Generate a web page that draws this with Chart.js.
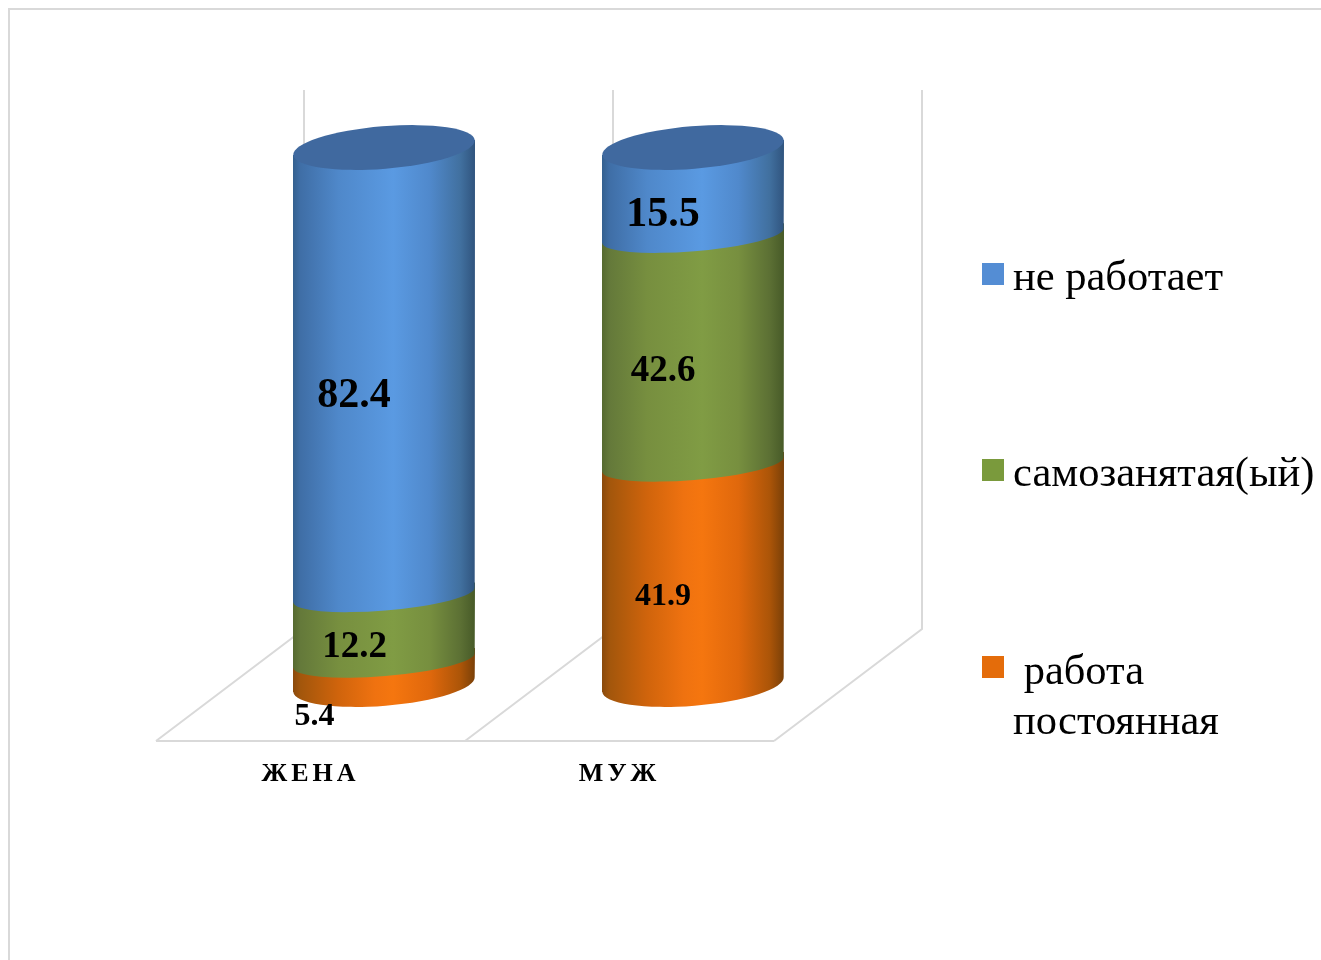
<!DOCTYPE html>
<html>
<head>
<meta charset="utf-8">
<style>
html,body{margin:0;padding:0;background:#fff;overflow:hidden}
canvas{display:block}
</style>
<script src="https://cdn.jsdelivr.net/npm/chart.js@4/dist/chart.umd.min.js"></script>
</head>
<body>
<canvas id="chart" width="1321" height="960"></canvas>
<script>
var categories = ['ЖЕНА', 'МУЖ'];
var permanentWork = [5.4, 41.9];
var selfEmployed = [12.2, 42.6];
var notWorking = [82.4, 15.5];
var seriesLabels = ['работа постоянная', 'самозанятая(ый)', 'не работает'];

// legend text, top to bottom, and how it wraps
var legendLines = [['не работает'], ['самозанятая(ый)'], [' работа', 'постоянная']];

// cylinder look
var serifFont = '"Liberation Serif", "Times New Roman", serif';
var baseColors = ['#ed7010', '#7f9a41', '#5a9ae0'];
var sideStops = [
    [[0, '#8a4a0c'], [0.04, '#a2560c'], [0.25, '#d0640c'], [0.45, '#ef7210'], [0.55, '#f5760f'], [0.75, '#e0680c'], [0.92, '#ac5508'], [1, '#7a4008']],
    [[0, '#566a30'], [0.04, '#64793a'], [0.25, '#778f3f'], [0.55, '#809c44'], [0.75, '#778f3f'], [0.92, '#5c7034'], [1, '#475a28']],
    [[0, '#34608f'], [0.04, '#3f6ea6'], [0.25, '#4f88ca'], [0.55, '#5a9ae2'], [0.75, '#5089cc'], [0.92, '#41709f'], [1, '#30547e']]
];
var capColor = '#40699f';
var capTilt = 0.082;
var capRy = 21.2;
// seams between segments are flatter than the two ends
var seamRy = 15.5;
var seamDrop = 5;

// label font size and offset from the middle of the segment: [dataset][category]
var labelStyle = [
    [{size: 32, dx: -69.5, dy: 46.5}, {size: 32, dx: -30, dy: 25}],
    [{size: 37, dx: -29.5, dy: 25}, {size: 37, dx: -30, dy: 26}],
    [{size: 42, dx: -30, dy: 27}, {size: 42, dx: -30, dy: 26}]
];

var frameColor = '#d9d9d9';

function sideGradient(ctx, left, right, stops) {
    var g = ctx.createLinearGradient(left, 0, right, 0);
    stops.forEach(function (s) { g.addColorStop(s[0], s[1]); });
    return g;
}

var backdrop = {
    id: 'backdrop',
    beforeDraw: function (chart) {
        var ctx = chart.ctx;
        var x = chart.scales.x;
        var band = x.width / categories.length;
        ctx.save();
        ctx.strokeStyle = frameColor;
        ctx.lineWidth = 2;
        // page frame
        ctx.beginPath();
        ctx.moveTo(9, 960);
        ctx.lineTo(9, 9);
        ctx.lineTo(1321, 9);
        ctx.stroke();
        // walls and floor
        var front = 741, back = 629, top = 90, depth = 74.5, floorRun = 148;
        ctx.beginPath();
        for (var i = 0; i <= categories.length; i++) {
            var wx = x.left + depth + i * band;
            ctx.moveTo(wx, top);
            ctx.lineTo(wx, back);
            ctx.lineTo(wx - floorRun, front);
        }
        ctx.moveTo(x.left + depth - floorRun, front);
        ctx.lineTo(x.right + depth - floorRun, front);
        ctx.stroke();
        ctx.restore();
        ctx.letterSpacing = '4px';
    },
    beforeDatasetsDraw: function (chart) {
        chart.ctx.letterSpacing = '0px';
    }
};

var cylinders = {
    id: 'cylinders',
    // the flat rectangles are replaced by the round sides drawn below
    beforeDatasetDraw: function () {
        return false;
    },
    afterDatasetsDraw: function (chart) {
        var ctx = chart.ctx;
        var n = chart.data.datasets.length;
        for (var d = 0; d < n; d++) {
            chart.getDatasetMeta(d).data.forEach(function (bar) {
                var rx = bar.width / 2;
                var rise = Math.sin(capTilt) * rx;
                var left = bar.x - rx, right = bar.x + rx;
                var ry = d === 0 ? capRy : seamRy;
                var cy = d === 0 ? bar.base : bar.base + seamDrop;
                ctx.save();
                ctx.fillStyle = sideGradient(ctx, left, right, sideStops[d]);
                ctx.beginPath();
                ctx.moveTo(left, bar.y + rise);
                ctx.lineTo(left, cy + rise);
                ctx.ellipse(bar.x, cy, rx, ry, -capTilt, Math.PI, 0, true);
                ctx.lineTo(right, bar.y - rise);
                ctx.closePath();
                ctx.fill();
                ctx.restore();
            });
        }
        // top of each cylinder
        chart.getDatasetMeta(n - 1).data.forEach(function (bar) {
            ctx.save();
            ctx.fillStyle = capColor;
            ctx.beginPath();
            ctx.ellipse(bar.x, bar.y, bar.width / 2, capRy, -capTilt, 0, Math.PI * 2);
            ctx.fill();
            ctx.restore();
        });
    },
    afterDraw: function (chart) {
        var ctx = chart.ctx;
        ctx.save();
        ctx.fillStyle = '#000';
        ctx.textAlign = 'center';
        ctx.textBaseline = 'middle';
        chart.data.datasets.forEach(function (ds, d) {
            chart.getDatasetMeta(d).data.forEach(function (bar, c) {
                var st = labelStyle[d][c];
                ctx.font = 'bold ' + st.size + 'px ' + serifFont;
                ctx.fillText(ds.data[c].toFixed(1), bar.x + st.dx, (bar.y + bar.base) / 2 + st.dy);
            });
        });
        // legend
        var swatchY = [263, 459, 656];
        var baselineY = [289.5, 486, 684];
        var legendColors = ['#548dd4', '#7a9a3c', '#e46c0a'];
        ctx.textAlign = 'left';
        ctx.textBaseline = 'alphabetic';
        ctx.font = '42.5px ' + serifFont;
        legendLines.forEach(function (lines, i) {
            ctx.fillStyle = legendColors[i];
            ctx.fillRect(982, swatchY[i], 22, 22);
            ctx.fillStyle = '#000';
            lines.forEach(function (line, k) {
                ctx.fillText(line, 1013, baselineY[i] + k * 50);
            });
        });
        ctx.restore();
    }
};

new Chart(document.getElementById('chart'), {
    type: 'bar',
    data: {
        labels: categories,
        datasets: [
            {label: seriesLabels[0], data: permanentWork, backgroundColor: baseColors[0]},
            {label: seriesLabels[1], data: selfEmployed, backgroundColor: baseColors[1]},
            {label: seriesLabels[2], data: notWorking, backgroundColor: baseColors[2]}
        ]
    },
    plugins: [backdrop, cylinders],
    options: {
        responsive: false,
        devicePixelRatio: 1,
        animation: false,
        barThickness: 182,
        layout: {padding: {left: 229.5, right: 473.5, top: 147.5, bottom: 0}},
        plugins: {legend: {display: false}, tooltip: {enabled: false}, title: {display: false}},
        scales: {
            x: {
                stacked: true,
                grid: {display: false},
                border: {display: false},
                afterFit: function (s) { s.height = 275.5; },
                ticks: {
                    color: '#000',
                    padding: 66,
                    labelOffset: -73.5,
                    maxRotation: 0,
                    font: {family: serifFont, size: 26, weight: 'bold'}
                }
            },
            y: {stacked: true, display: false, min: 0, max: 100}
        }
    }
});
</script>
</body>
</html>
